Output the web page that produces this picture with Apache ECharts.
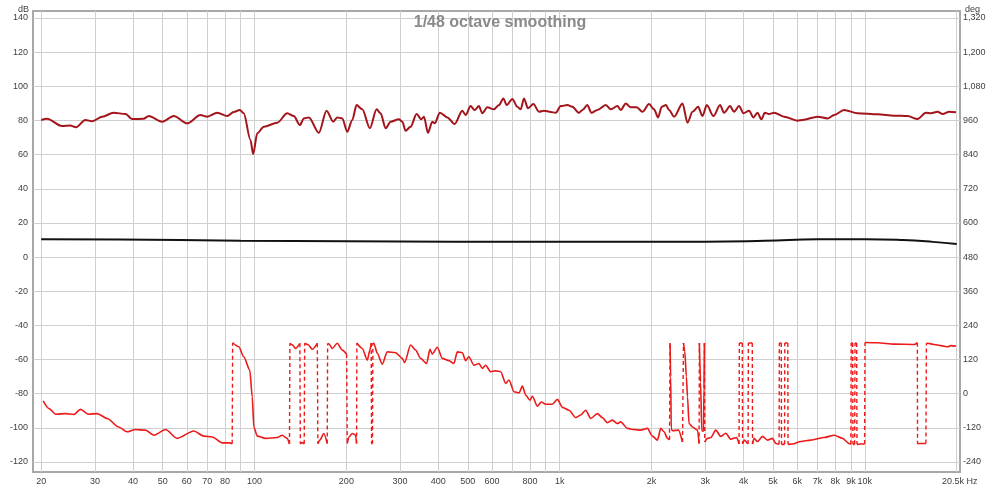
<!DOCTYPE html>
<html>
<head>
<meta charset="utf-8">
<script src="https://cdn.jsdelivr.net/npm/echarts@6/dist/echarts.min.js"></script>
<style>html,body{margin:0;padding:0;background:#fff;}#c{width:1000px;height:489px;}</style>
</head>
<body>
<div id="c"></div>
<script>
// ---- data ----
const gridFreqs = [20,30,40,50,60,70,80,90,100,200,300,400,500,600,700,800,900,1000,2000,3000,4000,5000,6000,7000,8000,9000,10000,20000];
const labelFreqs = [20,30,40,50,60,70,80,100,200,300,400,500,600,800,1000,2000,3000,4000,5000,6000,7000,8000,9000,10000,20450];
const labelTexts = ['20','30','40','50','60','70','80','100','200','300','400','500','600','800','1k','2k','3k','4k','5k','6k','7k','8k','9k','10k','20.5k Hz'];
const dbTicks = [-120,-100,-80,-60,-40,-20,0,20,40,60,80,100,120,140];
const degTicks = [-240,-120,0,120,240,360,480,600,720,840,960,1080,1200,1320];

const magnitude = [
[20,80.3],[20.9,81],[23.4,76.7],[24.9,77],[26.0,76],[27.9,80.3],[29.4,79.5],[31.7,82.2],[34.5,84.5],[37.8,83.8],[39.7,80.8],[43.3,81],[45.0,82.6],[49.8,79.3],[54.4,82.6],[60.2,78.3],[66.5,83.2],[70.0,82.2],[75.5,84.5],[81.4,82.6],[85.5,85],[89.5,86.1],[92.2,84.2],[97.0,68.5],[99.0,60.3],[102.1,72.5],[107.3,76.3],[118.7,78.7],[128.0,84.2],[134.5,82.6],[140.8,77.3],[145.1,81.2],[150.7,81.8],[162.5,72.8],[172.2,85.7],[181.1,79.3],[186.7,81.8],[193.9,81.2],[201.3,73.4],[209.1,80.3],[216.0,89],[225.5,86.5],[238.8,75.4],[251.2,86.5],[258.9,84.2],[268.9,75.4],[279.2,79.3],[297.3,80.7],[305.1,79.3],[312.7,74],[324.7,76.3],[339.7,83.8],[352.0,80.7],[359.1,82.2],[370.1,72.8],[382.5,79.3],[389.3,78.3],[405.1,84.5],[428.4,81.8],[452.6,77.9],[479.7,85.7],[491.8,83.2],[510.7,88.4],[526.3,86.1],[543.7,88.4],[557.9,84.2],[579.4,87.7],[609.0,86.5],[632.4,89],[653.8,92.9],[670.3,89],[699.8,92.6],[726.7,88],[745.1,86.5],[763.8,92.9],[787.3,87.1],[820.0,89.6],[855.4,85.1],[888.3,85.7],[934.3,85],[970.3,84.5],[1008,88.4],[1060,89],[1100,88],[1157,84.5],[1187,86.1],[1232,89],[1270,84.5],[1329,86.1],[1416,89],[1470,86.5],[1546,88.4],[1585,86.1],[1646,90],[1709,87.7],[1788,87.7],[1867,85.1],[1963,89.6],[2038,86.5],[2101,81.8],[2160,88],[2230,89],[2283,86.1],[2371,82.2],[2526,90],[2623,78.7],[2724,85.1],[2841,88],[2937,82.6],[3034,89],[3191,82.6],[3354,89],[3456,84.5],[3616,88.4],[3727,85.1],[3870,88.4],[4001,84.2],[4174,85.7],[4315,81.8],[4447,84.5],[4583,80.7],[4699,84.5],[4854,83.8],[5041,84.5],[5438,82.2],[6016,79.9],[6248,80.3],[6998,82.2],[7548,81.2],[7932,83.2],[8553,86.1],[9464,84.2],[11010,83.6],[12480,82.8],[13800,82.6],[14890,80.8],[15850,84.5],[16460,84.2],[17310,85.1],[17980,83.8],[18900,85.1],[19880,84.8]
];

const blackTrace = [[20,10.4],[36,10.3],[90,9.6],[200,9.2],[1000,9.0],[3000,9.0],[4700,9.5],[7000,10.4],[10000,10.5],[13300,10.0],[16700,8.9],[20000,7.6]];

const phase = [
[20.3,-25],[21.2,-52],[22.3,-72],[24.0,-70],[25.6,-73],[26.9,-55],[28.6,-72],[30.5,-70],[32.9,-87],[35.9,-117],[38.2,-134],[40.7,-126],[43.9,-128],[46.8,-146],[51.1,-126],[55.8,-157],[63.2,-131],[68.2,-149],[72.7,-152],[78.4,-173],[83.0,-173],[84.5,-176],
[84.8,179],[88.8,165],[92.2,130],[96.5,83],[98.3,-11],[99.5,-117],[102.1,-149],[108.7,-157],[118.7,-154],[123.3,-146],[128.0,-157],[130.2,-177],
[130.6,177],[133,172],[136.3,159],[140.8,177],
[141.3,-176],[143.5,-172],[145.5,-176],
[146.0,177],[150,172],[154.6,156],[160.6,177],
[161.3,-176],[163.7,-163],[168.7,-140],[173.1,-175],
[173.6,176],[175.2,175],[179.8,159],[186.7,177],[193.9,153],[200.3,139],
[201.3,-175],[203.8,-152],[209.1,-140],[214.3,-145],[216.0,-175],
[216.5,178],[225.5,159],[234.2,118],[238.8,153],[241.2,178],
[241.9,-176],[243.5,-176],
[244.3,178],[246.1,177],[252.5,142],[262.2,104],[272.3,147],[290.0,144],[305.1,124],[310.3,109],[324.7,171],[337.3,153],[350.2,124],[366.4,106],[375.7,156],[382.5,139],[397.2,163],[412.5,124],[433.5,116],[450.2,106],[461.9,147],[479.7,144],[491.8,116],[504.2,130],[523.6,100],[543.7,106],[557.9,89],[572,100],[593.9,77],[616.8,80],[640.6,77],[665.3,36],[682.1,48],[708.4,7],[735.7,3],[754.7,27],[773.7,-5],[799.2,-23],[813.9,-9],[845.2,-44],[871,-29],[900,-37],[946.4,-37],[982.9,-20],[1021,-48],[1073,-58],[1128,-84],[1172,-75],[1217,-58],[1264,-87],[1329,-70],[1380,-84],[1434,-102],[1489,-93],[1546,-105],[1585,-99],[1667,-122],[1752,-126],[1843,-128],[1939,-122],[2013,-149],[2091,-163],[2144,-122],[2198,-134],[2255,-157],[2290,-162],
[2300,178],[2310,60],[2321,-125],[2347,-130],[2450,-128],[2526,-170],
[2545,178],[2570,150],[2600,60],[2623,-11],[2654,-105],[2724,-117],[2829,-128],[2863,-175],
[2869,178],[2895,40],[2921,-130],[2960,-132],[2970,20],[2980,178],
[2988,-170],[3051,-157],[3127,-154],[3247,-128],[3372,-150],[3502,-139],[3636,-160],[3803,-154],[3870,-177],
[3879,178],[3966,178],
[3975,-177],[4020,-163],[4143,-177],
[4152,178],[4276,178],
[4285,-177],[4335,-157],[4447,-168],[4619,-150],[4797,-163],[4981,-157],[5107,-175],[5236,-178],
[5245,178],[5323,178],
[5331,-178],[5457,-178],
[5466,178],[5591,178],
[5600,-178],[5794,-177],[6169,-168],[6653,-163],[7357,-154],[7932,-146],[8451,-157],[8882,-175],[8997,-178],
[9019,178],[9120,178],
[9143,-178],[9261,-178],
[9284,178],[9400,178],
[9423,-178],[9703,-177],[9980,-177],
[10010,180],[11010,179],[12480,174],[14510,173],[14860,179],
[14880,-176],[15070,-175],[15850,-175],
[15910,177],[16060,177],[16870,173],[17750,169],[18670,165],[19140,169],[19880,167]
];

// ---- split phase into solid runs and dashed wrap jumps ----
const phaseSolid = [], phaseWrap = [];
for (let i = 0; i < phase.length; i++) {
  if (i > 0 && Math.abs(phase[i][1] - phase[i-1][1]) > 200) {
    phaseSolid.push([phase[i][0], '-']);
    phaseWrap.push(phase[i-1], phase[i], [phase[i][0], '-']);
  }
  phaseSolid.push(phase[i]);
}

const labelMap = {};
labelFreqs.forEach((f, i) => { labelMap[f] = labelTexts[i]; });

const FONT = 'Liberation Sans, Arial, sans-serif';
const chart = echarts.init(document.getElementById('c'), null, {renderer: 'canvas'});
chart.setOption({
  animation: false,
  backgroundColor: '#ffffff',
  title: [
    {text: '1/48 octave smoothing', left: 'center', top: 10,
     textStyle: {fontSize: 16, fontWeight: 'bold', color: '#8a8a8a', fontFamily: FONT}},
    {text: 'dB', left: 13, top: 0, textStyle: {fontSize: 9, fontWeight: 'normal', color: '#404040', fontFamily: FONT}},
    {text: 'deg', left: 960, top: 0, textStyle: {fontSize: 9, fontWeight: 'normal', color: '#404040', fontFamily: FONT}}
  ],
  grid: {left: 33, right: 40, top: 11, bottom: 17, show: true, borderColor: '#a8a8a8', borderWidth: 2, backgroundColor: '#ffffff'},
  xAxis: {
    type: 'log', logBase: 10, min: 18.8, max: 20500,
    axisLine: {show: false}, 
    axisTick: {show: false, customValues: gridFreqs},
    splitLine: {show: true, lineStyle: {color: '#cfcfcf', width: 1}},
    axisLabel: {customValues: labelFreqs, margin: 5, fontSize: 9, color: '#404040', fontFamily: FONT,
      formatter: v => labelMap[v] !== undefined ? labelMap[v] : ''}
  },
  yAxis: [
    {type: 'value', min: -125.86, max: 144.1, position: 'left',
     axisLine: {show: false}, axisTick: {show: false, customValues: dbTicks},
     splitLine: {show: true, lineStyle: {color: '#cfcfcf', width: 1}},
     axisLabel: {customValues: dbTicks, margin: 5, fontSize: 9, color: '#404040', fontFamily: FONT}},
    {type: 'value', min: -275.16, max: 1344.6, position: 'right',
     axisLine: {show: false}, axisTick: {show: false, customValues: degTicks},
     splitLine: {show: false},
     axisLabel: {customValues: degTicks, margin: 3, fontSize: 9, color: '#404040', fontFamily: FONT,
       formatter: v => Math.round(v).toLocaleString('en-US')}}
  ],
  series: [
    {name: 'black', type: 'line', yAxisIndex: 0, data: blackTrace, smooth: 0.5, showSymbol: false,
     lineStyle: {color: '#111111', width: 2}, z: 3},
    {name: 'phase', type: 'line', yAxisIndex: 1, data: phaseSolid, smooth: 0.25, smoothMonotone: 'x', showSymbol: false, connectNulls: false,
     lineStyle: {color: '#ee1a1a', width: 1.6}, z: 4},
    {name: 'phaseWrap', type: 'line', yAxisIndex: 1, data: phaseWrap, showSymbol: false, connectNulls: false,
     lineStyle: {color: '#ee1a1a', width: 1.4, type: [4, 3]}, z: 4},
    {name: 'magnitude', type: 'line', yAxisIndex: 0, data: magnitude, smooth: 0.3, smoothMonotone: 'x', showSymbol: false,
     lineStyle: {color: '#a3151b', width: 2}, z: 5}
  ]
});
</script>
</body>
</html>
